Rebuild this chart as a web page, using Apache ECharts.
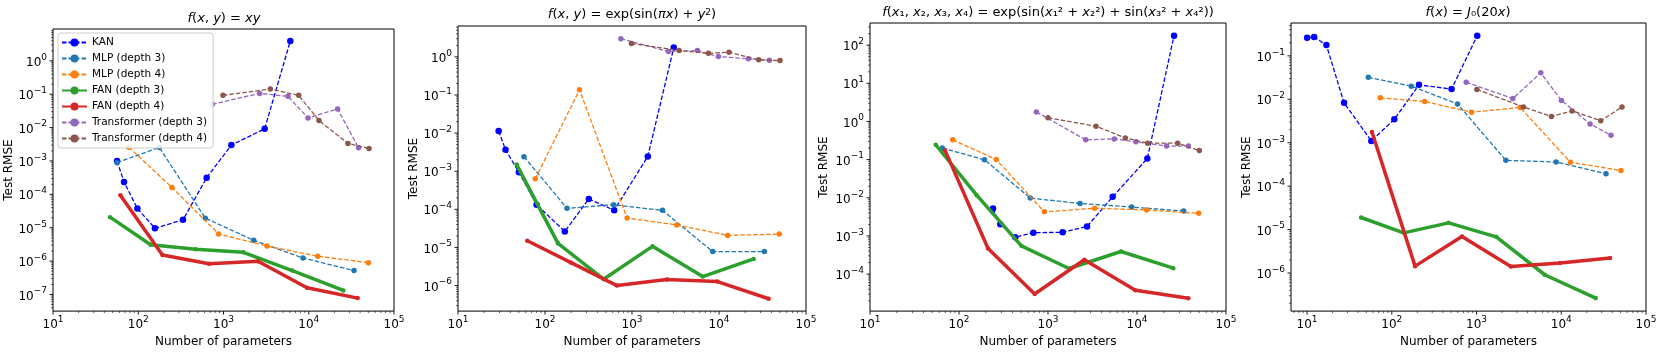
<!DOCTYPE html>
<html>
<head>
<meta charset="utf-8">
<script src="https://cdn.jsdelivr.net/npm/echarts@6/dist/echarts.min.js"></script>
<style>
html, body { margin: 0; padding: 0; background: #fff; }
#chart { width: 1661px; height: 353px; }
</style>
</head>
<body>
<div id="chart"></div>
<script>
// [number of parameters, test RMSE]

// f(x,y) = xy
const xyKan = [[56.4, 9.95e-4], [68.1, 2.35e-4], [97.7, 3.77e-5], [157, 9.6e-6], [335, 1.73e-5], [635, 3.17e-4], [1237, 2.99e-3], [3040, 9.2e-3], [6080, 3.95]];
const xyMlp3 = [[56.4, 8.9e-4], [176.6, 2.55e-3], [612, 1.94e-5], [2260, 4.2e-6], [8570, 1.24e-6], [33960, 5.2e-7]];
const xyMlp4 = [[77.3, 2.6e-3], [249, 1.6e-4], [877, 6.5e-6], [3236, 2.84e-6], [12740, 1.4e-6], [50000, 9.0e-7]];
const xyFan3 = [[46.7, 2.08e-5], [140, 3.1e-6], [472, 2.26e-6], [1710, 1.84e-6], [6410, 5.2e-7], [25460, 1.32e-7]];
const xyFan4 = [[61.7, 9.4e-5], [192, 1.53e-6], [676, 8.3e-7], [2540, 9.9e-7], [9530, 1.59e-7], [37500, 7.8e-8]];
const xyTf3 = [[739, 0.0499], [2655, 0.106], [5710, 0.0863], [9800, 0.0195], [21800, 0.0362], [38400, 2.49e-3]];
const xyTf4 = [[986, 0.0925], [3540, 0.143], [7620, 0.0925], [13200, 0.0162], [28840, 3.35e-3], [50900, 2.38e-3]];

// f(x,y) = exp(sin(pi x) + y^2)
const expKan = [[29.3, 0.0114], [35.2, 3.65e-3], [50.1, 9.4e-4], [80, 1.32e-4], [169, 2.63e-5], [319, 1.88e-4], [624, 9.4e-5], [1520, 2.45e-3], [3020, 1.75]];
const expMlp3 = [[57.3, 2.4e-3], [179, 1.06e-4], [614, 1.32e-4], [2240, 9.4e-5], [8470, 7.8e-6], [33240, 7.8e-6]];
const expMlp4 = [[77.3, 6.3e-4], [249, 0.137], [879, 5.9e-5], [3270, 3.9e-5], [12600, 2.07e-5], [49400, 2.24e-5]];
const expFan3 = [[47.2, 1.49e-3], [141, 1.28e-5], [471, 1.47e-6], [1718, 1.07e-5], [6500, 1.72e-6], [25060, 5.0e-6]];
const expFan4 = [[62.5, 1.5e-5], [197, 4.05e-6], [670, 1.0e-6], [2512, 1.44e-6], [9600, 1.27e-6], [37240, 4.5e-7]];
const expTf3 = [[745, 2.99], [2625, 1.38], [5650, 1.46], [9840, 1.02], [21770, 0.89], [37930, 0.82]];
const expTf4 = [[986, 2.26], [3480, 1.46], [7560, 1.24], [13060, 1.32], [28580, 0.836], [50230, 0.80]];

// f(x1..x4)
const fourKan = [[241, 5.2e-3], [291, 2.03e-3], [429, 9.2e-4], [684, 1.22e-3], [1462, 1.24e-3], [2743, 1.77e-3], [5330, 0.0106], [13070, 0.107], [26060, 176.6]];
const fourMlp3 = [[65, 0.201], [193, 0.099], [633, 9.8e-3], [2290, 7.1e-3], [8710, 5.7e-3], [33420, 4.5e-3]];
const fourMlp4 = [[84.9, 0.329], [262, 0.101], [910, 4.27e-3], [3340, 5.3e-3], [12850, 4.8e-3], [49300, 3.9e-3]];
const fourFan3 = [[54.7, 0.245], [158, 0.0117], [502, 5.5e-4], [1722, 1.4e-4], [6610, 3.9e-4], [25590, 1.43e-4]];
const fourFan4 = [[69.7, 0.175], [212, 4.7e-4], [708, 3.0e-5], [2560, 2.38e-4], [9570, 3.76e-5], [37740, 2.34e-5]];
const fourTf3 = [[740, 1.78], [2650, 0.329], [5560, 0.349], [9740, 0.292], [21540, 0.226], [37740, 0.226]];
const fourTf4 = [[1000, 1.25], [3460, 0.75], [7390, 0.37], [13180, 0.27], [28640, 0.27], [50150, 0.172]];

// f(x) = J0(20x)
const besselKan = [[10, 0.263], [12.1, 0.272], [16.9, 0.177], [27.3, 8.3e-3], [57.3, 1.1e-3], [107, 3.45e-3], [209, 0.0215], [507, 0.0172], [1019, 0.292]];
const besselMlp3 = [[52.8, 0.032], [170, 0.0201], [597, 7.8e-3], [2218, 3.93e-4], [8690, 3.6e-4], [33730, 1.93e-4]];
const besselMlp4 = [[73.1, 0.0108], [244, 8.9e-3], [873, 5.05e-3], [3270, 6.5e-3], [12820, 3.54e-4], [50700, 2.3e-4]];
const besselFan3 = [[43.4, 1.9e-5], [138, 8.4e-6], [468, 1.43e-5], [1706, 6.8e-6], [6440, 9.0e-7], [25530, 2.65e-7]];
const besselFan4 = [[58.3, 1.76e-3], [188, 1.44e-6], [672, 6.9e-6], [2540, 1.41e-6], [9680, 1.71e-6], [37670, 2.21e-6]];
const besselTf3 = [[755, 0.0247], [2680, 0.0104], [5730, 0.0407], [10040, 9.4e-3], [21880, 2.71e-3], [38630, 1.48e-3]];
const besselTf4 = [[1009, 0.0169], [3580, 6.65e-3], [7650, 4.03e-3], [13430, 5.4e-3], [29240, 3.22e-3], [52120, 6.65e-3]];

const seriesNames = ['KAN', 'MLP (depth 3)', 'MLP (depth 4)', 'FAN (depth 3)', 'FAN (depth 4)', 'Transformer (depth 3)', 'Transformer (depth 4)'];
const colors = ['#0000ff', '#1f77b4', '#ff7f0e', '#2ca02c', '#d62728', '#9467bd', '#8c564b'];

const font = 'DejaVu Sans';

// layout per panel (log10 ranges for the axes)
const panels = [
	{
		title: '{i|f}({i|x}, {i|y}) = {i|xy}', tx: 224, ty: 12,
		grid: { left: 53, top: 29, width: 341, height: 283 },
		xr: [1, 5], yr: [-7.497, 0.954], nameGap: 37,
		data: [xyKan, xyMlp3, xyMlp4, xyFan3, xyFan4, xyTf3, xyTf4]
	},
	{
		title: '{i|f}({i|x}, {i|y}) = exp(sin({i|πx}) + {i|y}{s|2})', tx: 632, ty: 8,
		grid: { left: 458, top: 26, width: 348, height: 288 },
		xr: [1, 5], yr: [-6.67, 0.81], nameGap: 37,
		data: [expKan, expMlp3, expMlp4, expFan3, expFan4, expTf3, expTf4]
	},
	{
		title: '{i|f}({i|x}₁, {i|x}₂, {i|x}₃, {i|x}₄) = exp(sin({i|x}₁² + {i|x}₂²) + sin({i|x}₃² + {i|x}₄²))', tx: 1048, ty: 6,
		grid: { left: 870, top: 23, width: 356, height: 295 },
		xr: [1, 5], yr: [-4.97, 2.58], nameGap: 40,
		data: [fourKan, fourMlp3, fourMlp4, fourFan3, fourFan4, fourTf3, fourTf4]
	},
	{
		title: '{i|f}({i|x}) = {i|J}₀(20{i|x})', tx: 1468, ty: 6,
		grid: { left: 1291, top: 23, width: 355, height: 295 },
		xr: [0.81, 5.0], yr: [-6.877, -0.243], nameGap: 38,
		data: [besselKan, besselMlp3, besselMlp4, besselFan3, besselFan4, besselTf3, besselTf4]
	}
];

function powLabel(v) {
	const n = Math.round(v);
	if (Math.abs(v - n) > 1e-6) return '';
	return '{b|10}{s|' + String(n).replace('-', '−') + '}';
}

const labelRich = {
	b: { fontFamily: font, fontSize: 12, color: '#000', lineHeight: 16, verticalAlign: 'bottom' },
	s: { fontFamily: font, fontSize: 9, color: '#000', lineHeight: 8, verticalAlign: 'top' }
};

// log ticks (major at 10^n, minor at k*10^n)
function logTicks(r) {
	const out = [];
	for (let n = Math.floor(r[0]); n <= Math.ceil(r[1]); n++) {
		for (let k = 1; k <= 9; k++) {
			const v = n + Math.log10(k);
			if (v >= r[0] - 1e-9 && v <= r[1] + 1e-9) out.push([v, k === 1 ? 1 : 0]);
		}
	}
	return out;
}

const grids = [], xAxes = [], yAxes = [], series = [], titles = [];

panels.forEach((p, i) => {
	grids.push(Object.assign({ show: true, borderColor: '#000', borderWidth: 1, containLabel: false }, p.grid));
	titles.push({
		text: p.title, left: p.tx, top: p.ty, textAlign: 'center', padding: 0,
		textStyle: {
			fontFamily: font, fontSize: 13, fontWeight: 'normal', color: '#000',
			rich: {
				i: { fontFamily: font, fontSize: 13, fontStyle: 'italic', color: '#000' },
				s: { fontFamily: font, fontSize: 9, color: '#000', verticalAlign: 'top', lineHeight: 9 }
			}
		}
	});
	xAxes.push({
		type: 'value', gridIndex: i, min: p.xr[0], max: p.xr[1], minInterval: 1, maxInterval: 1,
		name: 'Number of parameters', nameLocation: 'middle', nameGap: 19,
		nameTextStyle: { fontFamily: font, fontSize: 12, color: '#000' },
		axisLine: { show: false }, axisTick: { show: false }, splitLine: { show: false },
		axisLabel: { margin: 4, formatter: powLabel, rich: labelRich, showMinLabel: true, showMaxLabel: true, hideOverlap: false }
	});
	yAxes.push({
		type: 'value', gridIndex: i, min: p.yr[0], max: p.yr[1], minInterval: 1, maxInterval: 1,
		name: 'Test RMSE', nameLocation: 'middle', nameGap: p.nameGap, nameRotate: 90,
		nameTextStyle: { fontFamily: font, fontSize: 12, color: '#000' },
		axisLine: { show: false }, axisTick: { show: false }, splitLine: { show: false },
		axisLabel: { margin: 6, formatter: powLabel, rich: labelRich, hideOverlap: false }
	});

	// tick marks drawn through the axes' scale
	const tickData = [];
	logTicks(p.xr).forEach(t => tickData.push([t[0], p.yr[0], 0, t[1]]));
	logTicks(p.yr).forEach(t => tickData.push([p.xr[0], t[0], 1, t[1]]));
	series.push({
		type: 'custom', xAxisIndex: i, yAxisIndex: i, silent: true, clip: false, z: 1,
		animation: false, data: tickData,
		renderItem: (params, api) => {
			const pt = api.coord([api.value(0), api.value(1)]);
			const major = api.value(3) === 1;
			const len = major ? 3.5 : 2;
			const shape = api.value(2) === 0
				? { x1: pt[0], y1: pt[1], x2: pt[0], y2: pt[1] + len }
				: { x1: pt[0], y1: pt[1], x2: pt[0] - len, y2: pt[1] };
			return { type: 'line', shape: shape, style: { stroke: '#000', lineWidth: major ? 0.9 : 0.6 } };
		}
	});

	p.data.forEach((pts, s) => {
		const fan = s === 3 || s === 4;
		series.push({
			type: 'line', name: seriesNames[s], xAxisIndex: i, yAxisIndex: i,
			data: pts.map(d => [Math.log10(d[0]), Math.log10(d[1])]),
			symbol: 'circle', symbolSize: s === 0 ? 6.5 : (fan ? 4.5 : 5.5),
			showSymbol: true, animation: false, z: 2 + s,
			lineStyle: { color: colors[s], width: fan ? 3.5 : 1.3, type: fan ? 'solid' : [4.5, 2] },
			itemStyle: { color: colors[s] },
			emphasis: { disabled: true }
		});
	});
});

const chart = echarts.init(document.getElementById('chart'), null, { renderer: 'canvas' });
chart.setOption({
	backgroundColor: '#fff',
	animation: false,
	title: titles,
	grid: grids,
	xAxis: xAxes,
	yAxis: yAxes,
	legend: {
		data: seriesNames, orient: 'vertical', left: 58, top: 33,
		padding: [4, 6, 4, 3], itemGap: 5, itemWidth: 25, itemHeight: 10,
		backgroundColor: 'rgba(255,255,255,0.85)', borderColor: '#cccccc', borderWidth: 1, borderRadius: 3,
		textStyle: { fontFamily: font, fontSize: 10.5, color: '#000' },
		selectedMode: false, z: 20
	},
	series: series
});
</script>
</body>
</html>
